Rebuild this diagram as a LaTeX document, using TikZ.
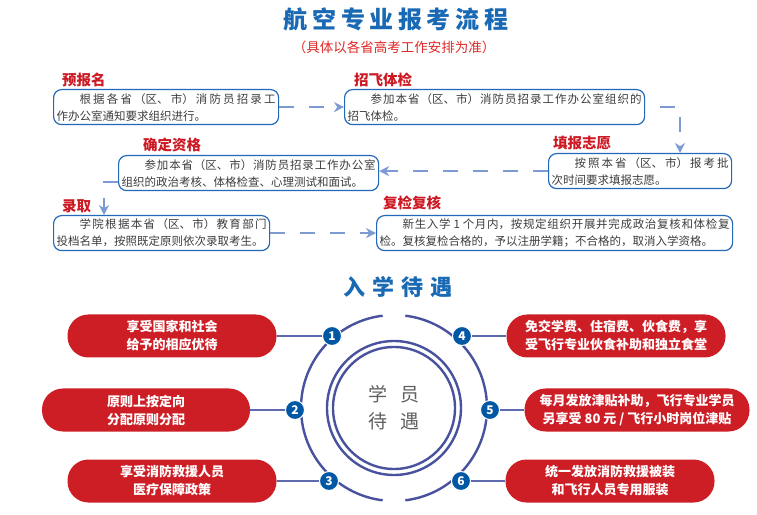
\documentclass[tikz,border=0pt]{standalone}
\usepackage{fontspec}
\setmainfont{Noto Sans CJK SC}
\usetikzlibrary{arrows.meta, positioning, calc}
\XeTeXlinebreaklocale "zh"
\XeTeXlinebreakskip=0pt plus 3pt
\definecolor{ctitle}{RGB}{25,105,180}
\definecolor{csub}{RGB}{225,40,40}
\definecolor{clabel}{RGB}{205,25,35}
\definecolor{cbox}{RGB}{35,105,185}
\definecolor{ctext}{RGB}{60,60,60}
\definecolor{carrow}{RGB}{125,155,210}
\definecolor{cpill}{RGB}{205,30,38}
\definecolor{cring}{RGB}{72,82,158}
\definecolor{cnum}{RGB}{0,88,165}
\definecolor{clink}{RGB}{95,105,175}
\definecolor{cgray}{RGB}{95,95,95}
\newcommand{\tgap}{\hspace{4.6pt}}
\newcommand{\sgap}{\hspace{7pt}}

\begin{document}
\begin{tikzpicture}[
    x=1pt, y=1pt,
    flowbox/.style={draw=cbox, line width=1.2pt, rounded corners=8pt, anchor=north west,
        text width=#1, align=justify, inner xsep=3pt, inner ysep=2pt, minimum height=35pt,
        text=ctext, font=\fontsize{11.5}{17}\selectfont},
    steplabel/.style={anchor=west, inner sep=0pt, text=clabel, font=\bfseries\fontsize{14.5}{16}\selectfont},
    flowarrow/.style={draw=carrow, line width=2.5pt, dash pattern=on 15pt off 15pt,
        -{Stealth[length=10pt, width=10pt]}},
    pill/.style={fill=cpill, rounded corners=21pt, minimum height=43pt, minimum width=#1,
        align=center, text=white, font=\bfseries\fontsize{13}{18}\selectfont},
    numdot/.style={circle, fill=cnum, draw=white, line width=1pt, minimum size=19pt, inner sep=0pt,
        text=white, font=\bfseries\fontsize{12}{12}\selectfont},
    ring/.style={draw=cring, line width=2.4pt},
    link/.style={draw=clink, line width=1.2pt},
]
    \useasboundingbox (0,0) rectangle (757,514);

    % Titles
    \node[text=ctitle, font=\bfseries\fontsize{24}{24}\selectfont] (title) at (396,495)
        {航\tgap 空\tgap 专\tgap 业\tgap 报\tgap 考\tgap 流\tgap 程};
    \node[text=csub, font=\fontsize{13.5}{14}\selectfont] (subtitle) at (394,467)
        {（具体以各省高考工作安排为准）};

    % Flow boxes
    \node[flowbox=219pt] (b1) at (53,425)
        {\hspace*{2em}根据各省（区、市）消防员招录工\linebreak 作办公室通知要求组织进行。};
    \node[flowbox=294pt] (b2) at (344,425)
        {\hspace*{2em}参加本省（区、市）消防员招录工作办公室组织的\linebreak 招飞体检。};
    \node[flowbox=177pt] (b3) at (548,361)
        {\hspace*{2em}按照本省（区、市）报考批\linebreak 次时间要求填报志愿。};
    \node[flowbox=254pt] (b4) at (118,359)
        {\hspace*{2em}参加本省（区、市）消防员招录工作办公室\linebreak 组织的政治考核、体格检查、心理测试和面试。};
    \node[flowbox=210pt] (b5) at (53,299)
        {\hspace*{2em}学院根据本省（区、市）教育部门\linebreak 投档名单，按照既定原则依次录取考生。};
    \node[flowbox=350pt] (b6) at (376,299)
        {\hspace*{2em}新生入学 1 个月内，按规定组织开展并完成政治复核和体检复\linebreak 检。复核复检合格的，予以注册学籍；不合格的，取消入学资格。};

    % Step labels
    \node[steplabel] (l1) at ($(b1.north west)+(9,9)$) {预报名};
    \node[steplabel] (l2) at ($(b2.north west)+(10,9)$) {招飞体检};
    \node[steplabel] (l3) at ($(b3.north west)+(5,10)$) {填报志愿};
    \node[steplabel] (l4) at ($(b4.north west)+(25,10)$) {确定资格};
    \node[steplabel] (l5) at ($(b5.north west)+(9,9)$) {录取};
    \node[steplabel] (l6) at ($(b6.north west)+(7,12)$) {复检复核};

    % Flow arrows
    \coordinate (t3) at ($(b3.north west)+(132,0)$);
    \coordinate (s4) at ($(b4.south west)+(0,9)$);
    \coordinate (t5) at ($(b5.north west)+(51,0)$);
    \draw[flowarrow] (b1.east) -- (b2.west);
    \draw[flowarrow, dash phase=15pt] (b2.east) -| (t3);
    \draw[flowarrow] (b3.west) -- (b3.west -| b4.east);
    \draw[flowarrow] (s4) -| (t5);
    \draw[flowarrow] (b5.east) -- (b6.west);

    % Second title
    \node[text=ctitle, font=\bfseries\fontsize{22}{22}\selectfont] (title2) at (398,227)
        {入\sgap 学\sgap 待\sgap 遇};

    % Rings
    \coordinate (ctr) at (394,106);
    \draw[ring] ([shift={(97:93)}]ctr) arc[start angle=97, end angle=263, radius=93];
    \draw[ring] ([shift={(-83:93)}]ctr) arc[start angle=-83, end angle=83, radius=93];
    \draw[ring] (ctr) circle[radius=67];
    \draw[ring] (ctr) circle[radius=61];
    \node[text=cgray, align=center, font=\fontsize{19}{27}\selectfont] (core) at (ctr)
        {学\hspace{13pt}员\\待\hspace{13pt}遇};

    % Numbered dots
    \node[numdot] (n1) at (332,178) {1};
    \node[numdot] (n2) at (295,104) {2};
    \node[numdot] (n3) at (329,33) {3};
    \node[numdot] (n4) at (462,178) {4};
    \node[numdot] (n5) at (490,104) {5};
    \node[numdot] (n6) at (461,33) {6};

    % Benefit pills
    \node[pill=209pt] (p1) at (172,178) {享受国家和社会\\给予的相应优待};
    \node[pill=208pt] (p2) at (146,104) {原则上按定向\\分配原则分配};
    \node[pill=209pt] (p3) at (172,33) {享受消防救援人员\\医疗保障政策};
    \node[pill=219pt] (p4) at (616,178) {免交学费、住宿费、伙食费，享\\受飞行专业伙食补助和独立食堂};
    \node[pill=225pt] (p5) at (637,104) {每月发放津贴补助，飞行专业学员\\另享受 80 元 / 飞行小时岗位津贴};
    \node[pill=209pt] (p6) at (610,33) {统一发放消防救援被装\\和飞行人员专用服装};

    % Links
    \draw[link] (p1.east) -- (n1.west);
    \draw[link] (p2.east) -- (n2.west);
    \draw[link] (p3.east) -- (n3.west);
    \draw[link] (n4.east) -- (p4.west);
    \draw[link] (n5.east) -- (p5.west);
    \draw[link] (n6.east) -- (p6.west);
\end{tikzpicture}
\end{document}
